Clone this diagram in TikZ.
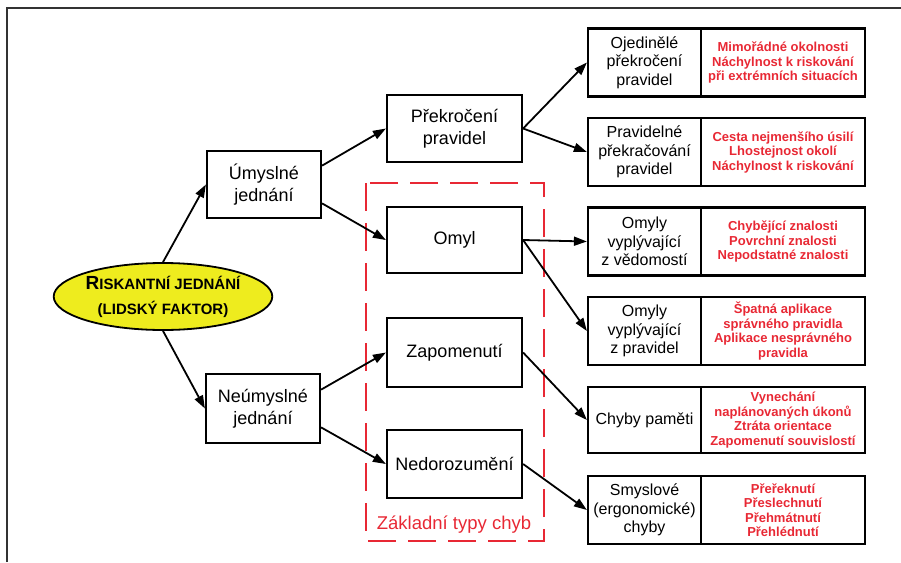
\documentclass[tikz,border=0pt]{standalone}
\usepackage{fontspec}
\setmainfont{Liberation Sans}
\usetikzlibrary{shapes.geometric,arrows.meta}
\definecolor{chyba}{RGB}{232,40,52}
\definecolor{zluta}{RGB}{238,236,30}
\begin{document}
\begin{tikzpicture}[x=1pt,y=-1pt,
		blok/.style={draw, line width=2.2pt, align=center, inner sep=0pt, font=\fontsize{18}{21.5}\selectfont},
		bunka/.style={draw, line width=2.2pt, align=center, inner sep=0pt, minimum height=68pt, minimum width=113pt, font=\fontsize{16}{18.5}\selectfont},
		duvod/.style={draw, line width=2.2pt, align=center, inner sep=0pt, minimum height=68pt, minimum width=164pt, text=chyba, font=\bfseries\fontsize{13}{14.5}\selectfont},
		sipka/.style={line width=1.8pt, -{Triangle[length=13pt,width=9pt]}}]
				\useasboundingbox (0,0) rectangle (901,562);
				\draw [line width=1.5pt, black!80] (7,562) -- (7,8) -- (901,8);
				\draw [line width=2pt, chyba, dash pattern=on 28pt off 12pt] (366,183) rectangle (544,541);
				\node[draw, line width=1.8pt, fill=zluta, ellipse, minimum width=216pt, minimum height=67pt, inner sep=0pt, align=center, font=\bfseries\fontsize{15}{25}\selectfont] (R) at (163,296.5) {{\fontsize{19}{25}\selectfont R}ISKANTNÍ JEDNÁNÍ\\(LIDSKÝ FAKTOR)};
				\node[blok, minimum width=114pt, minimum height=67pt] (U) at (264,184.5) {Úmyslné\\jednání};
				\node[blok, minimum width=114pt, minimum height=69pt] (N) at (263,408.5) {Neúmyslné\\jednání};
				\node[blok, minimum width=135pt, minimum height=67pt] (P) at (454.5,128.5) {Překročení\\pravidel};
				\node[blok, minimum width=135pt, minimum height=66pt] (O) at (454.5,240) {Omyl};
				\node[blok, minimum width=135pt, minimum height=69pt] (Z) at (454.5,352.5) {Zapomenutí};
				\node[blok, minimum width=135pt, minimum height=68pt] (D) at (454.5,464) {Nedorozumění};
				\node[text=chyba, font=\fontsize{18.5}{21}\selectfont] (T) at (454,525) {Základní typy chyb};
				\node[bunka] (L1) at (644.5,62.5) {Ojedinělé\\překročení\\pravidel};
				\node[duvod] (C1) at (783,62.5) {Mimořádné okolnosti\\Náchylnost k riskování\\při extrémních situacích};
				\node[bunka] (L2) at (644.5,152) {Pravidelné\\překračování\\pravidel};
				\node[duvod] (C2) at (783,152) {Cesta nejmenšího úsilí\\Lhostejnost okolí\\Náchylnost k riskování};
				\node[bunka] (L3) at (644.5,241.5) {Omyly\\vyplývající\\z vědomostí};
				\node[duvod] (C3) at (783,241.5) {Chybějící znalosti\\Povrchní znalosti\\Nepodstatné znalosti};
				\node[bunka] (L4) at (644.5,331) {Omyly\\vyplývající\\z pravidel};
				\node[duvod] (C4) at (783,331) {Špatná aplikace\\správného pravidla\\Aplikace nesprávného\\pravidla};
				\node[bunka, minimum height=66pt] (L5) at (644.5,420) {Chyby paměti};
				\node[duvod, minimum height=66pt] (C5) at (783,420) {Vynechání\\naplánovaných úkonů\\Ztráta orientace\\Zapomenutí souvislostí};
				\node[bunka] (L6) at (644.5,510) {Smyslové\\(ergonomické)\\chyby};
				\node[duvod] (C6) at (783,510) {Přeřeknutí\\Přeslechnutí\\Přehmátnutí\\Přehlédnutí};
				\draw[sipka] (R.north) -- (U.west);
				\draw[sipka] (R.south) -- (N.west);
				\draw[sipka] (U.18) -- (P.west);
				\draw[sipka] (U.-18) -- (O.west);
				\draw[sipka] (N.18) -- (Z.west);
				\draw[sipka] (N.-18) -- (D.west);
				\draw[sipka] (P.east) -- (L1.west);
				\draw[sipka] (P.east) -- (L2.west);
				\draw[sipka] (O.east) -- (L3.west);
				\draw[sipka] (O.east) -- (L4.west);
				\draw[sipka] (Z.east) -- (L5.west);
				\draw[sipka] (D.east) -- (L6.west);
\end{tikzpicture}
\end{document}
